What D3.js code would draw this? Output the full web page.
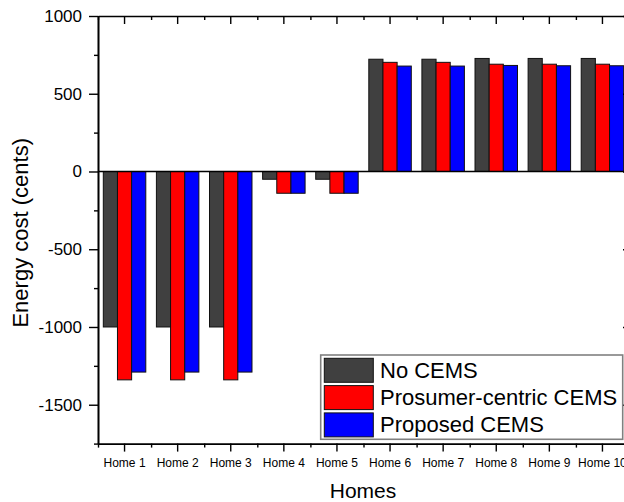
<!DOCTYPE html>
<html>
<head>
<meta charset="utf-8">
<script src="https://cdn.jsdelivr.net/npm/d3@7/dist/d3.min.js"></script>
<style>
  html, body { margin: 0; padding: 0; background: #fff; overflow: hidden; }
  svg { display: block; font-family: "Liberation Sans", Arial, sans-serif; }
</style>
</head>
<body>
<svg id="chart" width="624" height="502"></svg>
<script>
// Energy cost per home under three scheduling strategies
const homes = ["Home 1", "Home 2", "Home 3", "Home 4", "Home 5",
               "Home 6", "Home 7", "Home 8", "Home 9", "Home 10"];
const seriesNames = ["No CEMS", "Prosumer-centric CEMS", "Proposed CEMS"];
const noCems       = [-1000, -1000, -1000, -50, -50, 722, 722, 727, 727, 727];
const prosumerCems = [-1340, -1340, -1340, -140, -140, 702, 702, 690, 690, 690];
const proposedCems = [-1290, -1290, -1290, -140, -140, 678, 678, 682, 680, 680];
const seriesColors = ["#404040", "#ff0000", "#0000ff"];
const yMajorTicks = [-1500, -1000, -500, 0, 500, 1000];
const yMinorTicks = [-1750, -1250, -750, -250, 250, 750];

const seriesValues = [noCems, prosumerCems, proposedCems];

const svg = d3.select("#chart");
const plotLeft = 98, plotRight = 629, plotTop = 16, plotBottom = 443.6;

const x = d3.scaleBand().domain(homes).range([plotLeft, plotRight])
  .paddingInner(0.2).paddingOuter(0.1);
const xEdge = d3.scaleLinear().domain([0.5, homes.length + 0.5]).range([plotLeft, plotRight]);
const xSeries = d3.scaleBand().domain(seriesNames).range([0, x.bandwidth()]);
const y = d3.scaleLinear().domain([-1750, 1000]).range([plotBottom, plotTop]);

// bars
const rows = homes.map((h, i) => seriesNames.map((s, j) => ({ home: h, series: s, value: seriesValues[j][i], idx: j })));
svg.append("g").selectAll("g").data(rows).join("g")
  .attr("transform", d => `translate(${x(d[0].home)},0)`)
  .selectAll("rect").data(d => d).join("rect")
  .attr("x", d => xSeries(d.series))
  .attr("width", xSeries.bandwidth())
  .attr("y", d => y(Math.max(0, d.value)))
  .attr("height", d => Math.abs(y(d.value) - y(0)))
  .attr("fill", d => seriesColors[d.idx])
  .attr("stroke", "#111")
  .attr("stroke-width", 1);

// zero reference line
svg.append("line")
  .attr("x1", plotLeft).attr("x2", plotRight)
  .attr("y1", y(0)).attr("y2", y(0))
  .attr("stroke", "#000").attr("stroke-width", 1.3);

const edgeTicks = d3.range(0, homes.length + 1).map(i => i + 0.5);

function styleAxis(g) {
  g.selectAll("path.domain").attr("stroke", "#000").attr("stroke-width", 1.6);
  g.selectAll(".tick line").attr("stroke", "#000").attr("stroke-width", 1.4);
}

// left axis (plain hyphen for negatives)
svg.append("g").attr("transform", `translate(${plotLeft},0)`)
  .call(d3.axisLeft(y).tickValues(yMinorTicks).tickSizeInner(4).tickSizeOuter(0).tickFormat(""))
  .call(styleAxis);
svg.append("g").attr("transform", `translate(${plotLeft},0)`)
  .call(d3.axisLeft(y).tickValues(yMajorTicks).tickSizeInner(9).tickSizeOuter(0).tickPadding(7)
    .tickFormat(d => String(d)))
  .call(styleAxis)
  .call(g => g.selectAll("text").attr("font-size", 17).attr("fill", "#000")
    .attr("font-family", "'Liberation Sans', Arial, sans-serif"));

// right axis (mirror, inward ticks)
svg.append("g").attr("transform", `translate(${plotRight},0)`)
  .call(d3.axisRight(y).tickValues(yMajorTicks).tickSizeInner(-6).tickSizeOuter(0).tickFormat(""))
  .call(styleAxis);

// bottom axis
svg.append("g").attr("transform", `translate(0,${plotBottom})`)
  .call(d3.axisBottom(xEdge).tickValues(edgeTicks).tickSizeInner(4).tickSizeOuter(0).tickFormat(""))
  .call(styleAxis);
svg.append("g").attr("transform", `translate(0,${plotBottom})`)
  .call(d3.axisBottom(x).tickSizeInner(8).tickSizeOuter(0).tickPadding(7))
  .call(styleAxis)
  .call(g => g.select("path.domain").remove())
  .call(g => g.selectAll("text").attr("font-size", 12).attr("fill", "#000")
    .attr("font-family", "'Liberation Sans', Arial, sans-serif"));

// top axis (mirror, inward ticks)
svg.append("g").attr("transform", `translate(0,${plotTop})`)
  .call(d3.axisTop(xEdge).tickValues(edgeTicks).tickSizeInner(-4).tickSizeOuter(0).tickFormat(""))
  .call(styleAxis);
svg.append("g").attr("transform", `translate(0,${plotTop})`)
  .call(d3.axisTop(x).tickSizeInner(-8).tickSizeOuter(0).tickFormat(""))
  .call(styleAxis)
  .call(g => g.select("path.domain").remove());

// axis titles
svg.append("text")
  .attr("x", 363).attr("y", 498)
  .attr("text-anchor", "middle")
  .attr("font-size", 21).attr("fill", "#000")
  .text("Homes");
svg.append("text")
  .attr("transform", `translate(28,${(plotTop + plotBottom) / 2 + 3}) rotate(-90)`)
  .attr("text-anchor", "middle")
  .attr("font-size", 22).attr("fill", "#000")
  .text("Energy cost (cents)");

// legend
const lg = svg.append("g");
lg.append("rect")
  .attr("x", 320.7).attr("y", 355).attr("width", 302).attr("height", 84.3)
  .attr("fill", "#fff").attr("stroke", "#808080").attr("stroke-width", 1.6);
seriesNames.forEach((name, j) => {
  const yy = 358.3 + j * 27.3;
  lg.append("rect")
    .attr("x", 324.3).attr("y", yy).attr("width", 49).attr("height", 24)
    .attr("fill", seriesColors[j]).attr("stroke", "#111").attr("stroke-width", 1);
  lg.append("text")
    .attr("x", 380).attr("y", yy + 19.5)
    .attr("font-size", 22).attr("fill", "#000")
    .text(name);
});
</script>
</body>
</html>
